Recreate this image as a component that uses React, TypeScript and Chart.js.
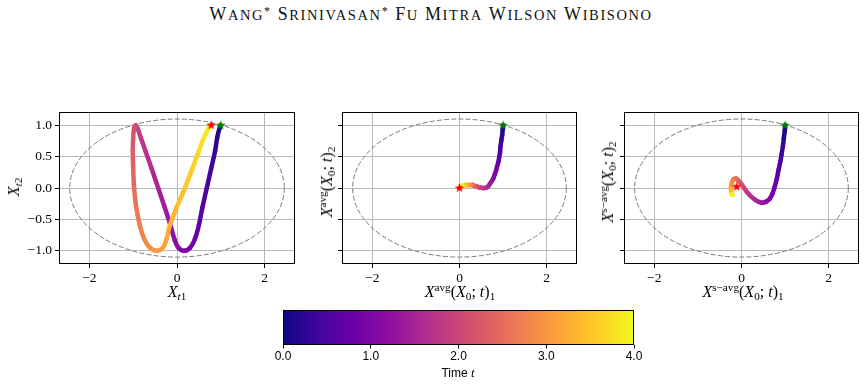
import React, { useEffect, useRef } from "react";
import { Chart, registerables } from "chart.js";
Chart.register(...registerables);

// ---------------- data ----------------
const TIMES = [0.0, 0.1, 0.2, 0.3, 0.4, 0.5, 0.6, 0.7, 0.8, 0.9, 1.0, 1.1, 1.2, 1.3, 1.4, 1.5, 1.6, 1.7, 1.8, 1.9, 2.0,
  2.1, 2.2, 2.3, 2.4, 2.5, 2.6, 2.7, 2.8, 2.9, 3.0, 3.1, 3.2, 3.3, 3.4, 3.5, 3.6, 3.7, 3.8, 3.9, 4.0];

const TRAJ_X = [1.00, 0.97, 0.92, 0.87, 0.78, 0.68, 0.58, 0.50, 0.41, 0.30, 0.16,
  0.03, -0.06, -0.15, -0.28, -0.43, -0.58, -0.72, -0.83, -0.90, -0.94,
  -0.98, -1.00, -1.01, -1.00, -0.98, -0.93, -0.85, -0.75, -0.62, -0.46,
  -0.32, -0.24, -0.16, -0.01, 0.18, 0.35, 0.50, 0.62, 0.72, 0.78];
const TRAJ_Y = [1.00, 0.95, 0.81, 0.59, 0.31, 0.00, -0.31, -0.59, -0.81, -0.95, -1.00,
  -0.95, -0.81, -0.59, -0.31, 0.00, 0.31, 0.59, 0.81, 0.95, 1.00,
  0.95, 0.81, 0.59, 0.31, 0.00, -0.31, -0.59, -0.81, -0.95, -1.00,
  -0.95, -0.81, -0.59, -0.31, 0.00, 0.31, 0.59, 0.81, 0.95, 1.00];

const AVG_X = [1.00, 0.99, 0.98, 0.96, 0.94, 0.93, 0.91, 0.89, 0.86, 0.84, 0.81,
  0.78, 0.74, 0.70, 0.66, 0.62, 0.58, 0.53, 0.49, 0.45, 0.42,
  0.39, 0.36, 0.34, 0.32, 0.30, 0.28, 0.26, 0.24, 0.22, 0.20,
  0.18, 0.16, 0.14, 0.12, 0.11, 0.09, 0.08, 0.06, 0.05, 0.04];
const AVG_Y = [1.00, 0.93, 0.85, 0.76, 0.66, 0.57, 0.49, 0.41, 0.34, 0.28, 0.22,
  0.16, 0.11, 0.07, 0.03, 0.01, 0.00, 0.00, 0.01, 0.01, 0.02,
  0.03, 0.03, 0.04, 0.04, 0.05, 0.05, 0.05, 0.05, 0.05, 0.05,
  0.05, 0.05, 0.05, 0.05, 0.04, 0.04, 0.04, 0.03, 0.03, 0.02];

const SAVG_X = [1.00, 0.99, 0.97, 0.95, 0.92, 0.89, 0.85, 0.81, 0.76, 0.71, 0.65,
  0.58, 0.51, 0.44, 0.37, 0.30, 0.23, 0.17, 0.11, 0.06, 0.02,
  -0.02, -0.06, -0.09, -0.12, -0.15, -0.18, -0.20, -0.22, -0.23, -0.24,
  -0.24, -0.24, -0.24, -0.23, -0.23, -0.22, -0.22, -0.21, -0.21, -0.20];
const SAVG_Y = [1.00, 0.90, 0.79, 0.67, 0.54, 0.42, 0.29, 0.15, 0.02, -0.09, -0.17,
  -0.21, -0.23, -0.23, -0.21, -0.18, -0.14, -0.10, -0.05, 0.00, 0.04,
  0.08, 0.11, 0.13, 0.15, 0.15, 0.14, 0.12, 0.09, 0.06, 0.03,
  0.00, -0.03, -0.05, -0.07, -0.08, -0.09, -0.10, -0.10, -0.11, -0.11];

const START_POINT = [1.0, 1.0];
const TRAJ_END = [0.78, 1.0];
const AVG_END = [0.0, 0.0];
const SAVG_END = [-0.11, 0.02];

const X_TICKS = [-2, 0, 2];
const Y_TICKS = [-1.0, -0.5, 0.0, 0.5, 1.0];
const CB_TICKS = [0, 1, 2, 3, 4];
const T_MAX = 4;
const X_LIM = 2.695;
const Y_LIM = 1.21;
const ELLIPSE_RX = 2.45;
const ELLIPSE_RY = 1.1;

const TITLE_WORDS = ["Wang*", "Srinivasan*", "Fu", "Mitra", "Wilson", "Wibisono"];

// ---------------- style ----------------
const PLASMA = ["#0d0887", "#41049d", "#6a00a8", "#8f0da4", "#b12a90", "#cc4778",
  "#e16462", "#f2844b", "#fca636", "#fcce25", "#f0f921"];

function hexRgb(h: string) {
  return [parseInt(h.slice(1, 3), 16), parseInt(h.slice(3, 5), 16), parseInt(h.slice(5, 7), 16)];
}
function plasma(f: number): string {
  const v = Math.min(1, Math.max(0, f)) * (PLASMA.length - 1);
  const i = Math.min(PLASMA.length - 2, Math.floor(v));
  const u = v - i;
  const a = hexRgb(PLASMA[i]);
  const b = hexRgb(PLASMA[i + 1]);
  return `rgb(${Math.round(a[0] + (b[0] - a[0]) * u)},${Math.round(a[1] + (b[1] - a[1]) * u)},${Math.round(a[2] + (b[2] - a[2]) * u)})`;
}

function starImage(color: string) {
  const c = document.createElement("canvas");
  c.width = 11;
  c.height = 11;
  const g = c.getContext("2d")!;
  g.fillStyle = color;
  g.beginPath();
  for (let k = 0; k < 10; k++) {
    const r = k % 2 === 0 ? 5 : 2.1;
    const a = -Math.PI / 2 + (k * Math.PI) / 5;
    const px = 5.5 + r * Math.cos(a);
    const py = 5.5 + r * Math.sin(a);
    if (k === 0) g.moveTo(px, py);
    else g.lineTo(px, py);
  }
  g.closePath();
  g.fill();
  return c;
}

const SERIF = "'Liberation Serif', 'Times New Roman', serif";
const SANS = "'Liberation Sans', Arial, sans-serif";
const minus = (s: string) => s.replace("-", "\u2212");

const PLOT_TOP = 111;
const PLOT_H = 153;
const Y_AXIS_W = 52;
const X_AXIS_H = 28;
const PAD_TOP = 10;
const PAD_RIGHT = 6;
const GRID_COLOR = "#b9b9b9";
const TICK_FONT = { family: SERIF, size: 13.5 };

const framePlugin = {
  id: "frame",
  afterDatasetsDraw(chart: any) {
    const { ctx, chartArea: a } = chart;
    ctx.save();
    ctx.strokeStyle = "#000";
    ctx.lineWidth = 1;
    ctx.strokeRect(Math.round(a.left) + 0.5, Math.round(a.top) + 0.5, Math.round(a.right - a.left) - 1, Math.round(a.bottom - a.top) - 1);
    ctx.restore();
  },
};

const ellipsePlugin = {
  id: "ellipse",
  beforeDatasetsDraw(chart: any) {
    const { ctx, chartArea: a, scales } = chart;
    const cx = scales.x.getPixelForValue(0);
    const cy = scales.y.getPixelForValue(0);
    const rx = scales.x.getPixelForValue(ELLIPSE_RX) - cx;
    const ry = cy - scales.y.getPixelForValue(ELLIPSE_RY);
    ctx.save();
    ctx.beginPath();
    ctx.rect(a.left, a.top, a.right - a.left, a.bottom - a.top);
    ctx.clip();
    ctx.strokeStyle = "#7a7a7a";
    ctx.lineWidth = 1;
    ctx.setLineDash([5, 2.2]);
    ctx.beginPath();
    ctx.ellipse(cx, cy, rx, ry, 0, 0, Math.PI * 2);
    ctx.stroke();
    ctx.restore();
  },
};

type PanelProps = {
  xs: number[];
  ys: number[];
  end: number[];
  plotLeft: number;
  plotWidth: number;
  showYLabels: boolean;
};

function Panel({ xs, ys, end, plotLeft, plotWidth, showYLabels }: PanelProps) {
  const ref = useRef<HTMLCanvasElement>(null);
  const width = Y_AXIS_W + plotWidth + PAD_RIGHT;
  const height = PAD_TOP + PLOT_H + X_AXIS_H;
  useEffect(() => {
    const chart = new Chart(ref.current!, {
      type: "scatter",
      data: {
        datasets: [
          {
            data: [{ x: START_POINT[0], y: START_POINT[1] }],
            pointStyle: starImage("#008000") as any,
            order: 0,
          },
          {
            data: [{ x: end[0], y: end[1] }],
            pointStyle: starImage("#ff0000") as any,
            order: 1,
          },
          {
            data: xs.map((x, i) => ({ x, y: ys[i] })),
            showLine: true,
            pointRadius: 0,
            borderWidth: 4.5,
            tension: 0.4,
            borderCapStyle: "round",
            borderJoinStyle: "round",
            borderColor: plasma(0),
            segment: {
              borderColor: (c: any) => plasma((TIMES[c.p0DataIndex] + TIMES[c.p1DataIndex]) / 2 / T_MAX),
            },
            order: 2,
          } as any,
        ],
      },
      options: {
        responsive: false,
        maintainAspectRatio: false,
        animation: false,
        events: [],
        layout: { padding: { top: PAD_TOP, right: PAD_RIGHT, left: 0, bottom: 0 } },
        plugins: { legend: { display: false }, tooltip: { enabled: false } },
        scales: {
          x: {
            type: "linear",
            min: -X_LIM,
            max: X_LIM,
            afterBuildTicks: (s: any) => {
              s.ticks = X_TICKS.map((v) => ({ value: v }));
            },
            afterFit: (s: any) => {
              s.height = X_AXIS_H;
            },
            ticks: {
              color: "#000",
              padding: 2,
              maxRotation: 0,
              font: TICK_FONT,
              callback: (v: any) => minus(String(v)),
            },
            grid: { color: GRID_COLOR, lineWidth: 1, tickLength: 4, tickColor: "#000", tickWidth: 1 },
            border: { display: false },
          },
          y: {
            type: "linear",
            min: -Y_LIM,
            max: Y_LIM,
            afterBuildTicks: (s: any) => {
              s.ticks = Y_TICKS.map((v) => ({ value: v }));
            },
            afterFit: (s: any) => {
              s.width = Y_AXIS_W;
            },
            ticks: {
              color: "#000",
              padding: 3,
              font: TICK_FONT,
              callback: (v: any) => (showYLabels ? minus(Number(v).toFixed(1)) : ""),
            },
            grid: { color: GRID_COLOR, lineWidth: 1, tickLength: 4, tickColor: "#000", tickWidth: 1 },
            border: { display: false },
          },
        },
      },
      plugins: [ellipsePlugin, framePlugin],
    });
    return () => chart.destroy();
  }, []);
  return (
    <canvas
      ref={ref}
      width={width}
      height={height}
      style={{ position: "absolute", left: plotLeft - Y_AXIS_W, top: PLOT_TOP - PAD_TOP, width, height }}
    />
  );
}

const CB_LEFT = 283;
const CB_W = 351;
const CB_TOP = 310;
const CB_H = 35;
const CB_PAD = 20;

function Colorbar() {
  const ref = useRef<HTMLCanvasElement>(null);
  const width = CB_W + CB_PAD * 2;
  const height = 5 + CB_H + 22;
  useEffect(() => {
    const cbPlugin = {
      id: "cb",
      beforeDatasetsDraw(chart: any) {
        const { ctx, chartArea: a } = chart;
        const g = ctx.createLinearGradient(a.left, 0, a.right, 0);
        PLASMA.forEach((c, i) => g.addColorStop(i / (PLASMA.length - 1), c));
        ctx.save();
        ctx.fillStyle = g;
        ctx.fillRect(a.left, a.top, a.right - a.left, a.bottom - a.top);
        ctx.strokeStyle = "#000";
        ctx.lineWidth = 1;
        ctx.strokeRect(Math.round(a.left) + 0.5, Math.round(a.top) + 0.5, Math.round(a.right - a.left) - 1, Math.round(a.bottom - a.top) - 1);
        ctx.restore();
      },
    };
    const chart = new Chart(ref.current!, {
      type: "scatter",
      data: { datasets: [{ data: [] }] },
      options: {
        responsive: false,
        maintainAspectRatio: false,
        animation: false,
        events: [],
        layout: { padding: { top: 5, left: CB_PAD, right: CB_PAD, bottom: 0 } },
        plugins: { legend: { display: false }, tooltip: { enabled: false } },
        scales: {
          x: {
            type: "linear",
            min: 0,
            max: T_MAX,
            afterBuildTicks: (s: any) => {
              s.ticks = CB_TICKS.map((v) => ({ value: v }));
            },
            afterFit: (s: any) => {
              s.height = 22;
            },
            ticks: {
              color: "#000",
              padding: 1,
              maxRotation: 0,
              font: { family: SANS, size: 12 },
              callback: (v: any) => Number(v).toFixed(1),
            },
            grid: { drawOnChartArea: false, tickLength: 3.5, tickColor: "#000", tickWidth: 1 },
            border: { display: false },
          },
          y: { display: false, min: 0, max: 1 },
        },
      },
      plugins: [cbPlugin],
    });
    return () => chart.destroy();
  }, []);
  return (
    <canvas
      ref={ref}
      width={width}
      height={height}
      style={{ position: "absolute", left: CB_LEFT - CB_PAD, top: CB_TOP - 5, width, height }}
    />
  );
}

const labelBase: React.CSSProperties = {
  position: "absolute",
  fontFamily: SERIF,
  fontSize: 16,
  whiteSpace: "nowrap",
  lineHeight: "1",
  color: "#000",
};
const subS: React.CSSProperties = { fontSize: "0.7em", verticalAlign: "-0.3em", lineHeight: 0 };
const supS: React.CSSProperties = { fontSize: "0.7em", verticalAlign: "0.55em", lineHeight: 0 };

function XLabel({ cx, cy, children }: { cx: number; cy: number; children: React.ReactNode }) {
  return <div style={{ ...labelBase, left: cx, top: cy, transform: "translate(-50%, -50%)" }}>{children}</div>;
}
function YLabel({ cx, cy, children }: { cx: number; cy: number; children: React.ReactNode }) {
  return (
    <div style={{ ...labelBase, left: cx, top: cy, transform: "translate(-50%, -50%) rotate(-90deg)" }}>{children}</div>
  );
}

function SmallCapsWord({ word }: { word: string }) {
  const star = word.endsWith("*");
  const w = star ? word.slice(0, -1) : word;
  return (
    <span style={{ marginRight: 6 }}>
      <span style={{ fontSize: 18 }}>{w[0]}</span>
      <span style={{ fontSize: 14.5 }}>{w.slice(1).toUpperCase()}</span>
      {star ? <span style={{ fontSize: 12, verticalAlign: "0.45em", lineHeight: 0 }}>*</span> : null}
    </span>
  );
}

export default function App() {
  return (
    <div style={{ position: "absolute", left: 0, top: 0, width: 866, height: 386, background: "#fff", overflow: "hidden" }}>
      <div
        style={{
          position: "absolute",
          left: 434,
          top: 14,
          transform: "translate(-50%, -50%)",
          fontFamily: SERIF,
          whiteSpace: "nowrap",
          lineHeight: "1",
          color: "#111",
          letterSpacing: "1.6px",
        }}
      >
        {TITLE_WORDS.map((w, i) => (
          <SmallCapsWord key={i} word={w} />
        ))}
      </div>

      <Panel xs={TRAJ_X} ys={TRAJ_Y} end={TRAJ_END} plotLeft={59} plotWidth={236} showYLabels={true} />
      <Panel xs={AVG_X} ys={AVG_Y} end={AVG_END} plotLeft={342} plotWidth={235} showYLabels={false} />
      <Panel xs={SAVG_X} ys={SAVG_Y} end={SAVG_END} plotLeft={624} plotWidth={235} showYLabels={false} />

      <XLabel cx={177} cy={292}>
        <i>X</i>
        <sub style={subS}>
          <i>t</i>1
        </sub>
      </XLabel>
      <YLabel cx={14} cy={187}>
        <i>X</i>
        <sub style={subS}>
          <i>t</i>2
        </sub>
      </YLabel>

      <XLabel cx={460} cy={292}>
        <i>X</i>
        <sup style={supS}>avg</sup>(<i>X</i>
        <sub style={subS}>0</sub>; <i>t</i>)<sub style={subS}>1</sub>
      </XLabel>
      <YLabel cx={327} cy={182}>
        <i>X</i>
        <sup style={supS}>avg</sup>(<i>X</i>
        <sub style={subS}>0</sub>; <i>t</i>)<sub style={subS}>2</sub>
      </YLabel>

      <XLabel cx={743} cy={292}>
        <i>X</i>
        <sup style={supS}>s−avg</sup>(<i>X</i>
        <sub style={subS}>0</sub>; <i>t</i>)<sub style={subS}>1</sub>
      </XLabel>
      <YLabel cx={608} cy={182}>
        <i>X</i>
        <sup style={supS}>s−avg</sup>(<i>X</i>
        <sub style={subS}>0</sub>; <i>t</i>)<sub style={subS}>2</sub>
      </YLabel>

      <Colorbar />
      <div
        style={{
          position: "absolute",
          left: 458,
          top: 372,
          transform: "translate(-50%, -50%)",
          fontFamily: SANS,
          fontSize: 12,
          whiteSpace: "nowrap",
          lineHeight: "1",
        }}
      >
        Time <i style={{ fontFamily: SERIF, fontSize: 13 }}>t</i>
      </div>
    </div>
  );
}
